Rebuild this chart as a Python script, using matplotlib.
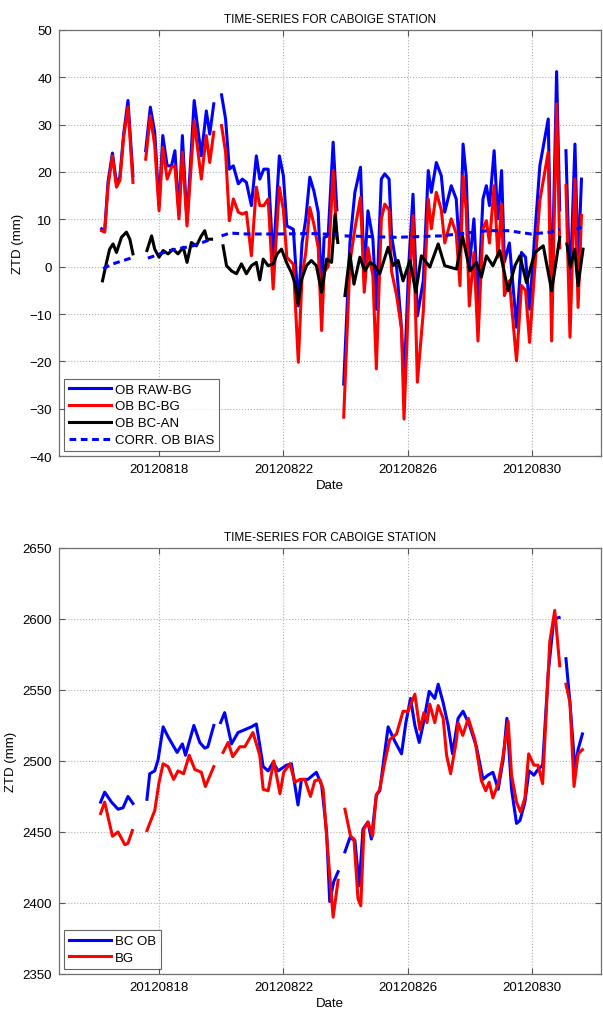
import numpy as np
import matplotlib
matplotlib.use("Agg")
import matplotlib.pyplot as plt

nan = np.nan

# ---- top panel: departures (mm), time in days of August 2012 ----
t_dep = [16.15, 16.25, 16.36, 16.50, 16.63, 16.74, 16.86, 17.00, 17.16, 17.35,
         17.57, 17.72, 17.86, 18.00, 18.12, 18.26, 18.40, 18.51, 18.64, 18.75,
         18.90, 19.13, 19.36, 19.52, 19.63, 19.76, 19.90,
         20.01, 20.14, 20.26, 20.39, 20.55, 20.68, 20.81, 20.97, 21.13, 21.24,
         21.37, 21.51, 21.67, 21.87, 22.00, 22.11, 22.32, 22.48, 22.60, 22.72,
         22.85, 22.98, 23.12, 23.23, 23.31, 23.44, 23.60, 23.72, 23.84,
         23.94, 24.14, 24.30, 24.48, 24.60, 24.72, 24.88, 24.99, 25.15, 25.26,
         25.40, 25.48, 25.64, 25.80, 25.88, 26.03, 26.17, 26.31, 26.50, 26.66,
         26.76, 26.92, 27.08, 27.19, 27.40, 27.56, 27.68, 27.78, 27.88, 27.98,
         28.13, 28.26, 28.42, 28.53, 28.63, 28.78, 28.90, 29.02, 29.11, 29.27,
         29.50, 29.66, 29.79, 29.92, 30.07, 30.25, 30.52, 30.63, 30.79, 30.89, 31.00,
         31.09, 31.22, 31.38, 31.48, 31.59]
ob_raw_bg = [8.0, 7.5, 18.0, 24.0, 17.5, 19.0, 28.0, 35.1, 19.2, nan,
             24.5, 33.7, 28.4, 12.9, 27.7, 21.3, 21.3, 24.5, 11.0, 27.7,
             9.4, 35.1, 23.4, 32.9, 28.0, 34.4, nan,
             36.3, 31.2, 20.6, 21.3, 17.5, 18.5, 17.8, 12.9, 23.4, 18.5,
             20.6, 20.6, 1.0, 23.4, 19.2, 8.6, 7.9, -8.3, 5.0, 10.0,
             18.9, 16.0, 11.5, -5.4, 6.2, 6.5, 26.3, 12.0, nan,
             -24.8, 5.0, 15.7, 21.0, -1.9, 11.8, 5.8, -9.0, 18.5, 19.6,
             18.5, 6.5, 0.0, -13.0, -25.0, 0.0, 15.3, -10.4, -3.0, 20.3,
             15.7, 22.0, 19.2, 11.5, 17.1, 14.3, 2.0, 25.9, 19.2, 0.0,
             10.1, -8.0, 14.3, 17.1, 12.9, 24.5, 10.1, 20.3, 1.0, 5.0,
             -12.8, 3.0, 2.0, -9.0, 5.0, 21.3, 31.2, -8.0, 41.2, 12.0, nan,
             24.5, -5.0, 25.9, 0.0, 18.5]
ob_bc_bg = [7.6, 7.3, 17.1, 23.4, 16.8, 18.2, 27.3, 33.7, 17.8, nan,
            22.7, 31.9, 25.6, 11.8, 25.2, 18.5, 21.0, 21.3, 10.1, 24.2,
            8.6, 30.8, 18.5, 27.7, 22.0, 28.4, nan,
            29.8, 24.2, 9.7, 14.3, 11.5, 11.1, 11.5, 2.3, 16.8, 12.9,
            12.9, 14.3, -4.7, 16.8, 12.0, 2.0, 0.5, -20.2, -2.0, 3.0,
            12.5, 9.0, 4.0, -13.5, -1.0, 0.0, 20.3, 6.0, nan,
            -31.8, 0.9, 8.0, 14.6, -5.4, 4.0, -2.0, -21.6, 10.0, 13.2,
            12.0, -1.0, -6.0, -13.2, -32.2, -6.1, 10.8, -24.4, -9.6, 14.3,
            8.0, 15.7, 12.0, 5.0, 10.1, 7.0, -4.0, 19.2, 12.0, -8.3,
            3.0, -15.7, 8.0, 9.7, 5.0, 17.1, 2.0, 13.2, -6.1, -3.0,
            -19.9, -4.0, -5.0, -16.0, -2.0, 14.0, 24.2, -15.7, 34.4, 4.0, nan,
            17.1, -14.9, 18.5, -8.6, 10.8]

t_an = [16.18, 16.31, 16.41, 16.52, 16.63, 16.79, 16.95, 17.06, 17.16, 17.35,
        17.61, 17.76, 17.86, 18.00, 18.13, 18.29, 18.45, 18.61, 18.78, 18.90,
        19.04, 19.20, 19.36, 19.47, 19.54, 19.69, 19.90,
        20.06, 20.17, 20.33, 20.49, 20.65, 20.81, 20.97, 21.13, 21.24, 21.35,
        21.51, 21.67, 21.80, 21.94, 22.10, 22.26, 22.37, 22.47, 22.58, 22.74,
        22.90, 23.06, 23.23, 23.39, 23.55, 23.66, 23.75, 23.86,
        23.98, 24.14, 24.27, 24.46, 24.62, 24.78, 24.94, 25.10, 25.37, 25.53,
        25.69, 25.85, 26.07, 26.26, 26.44, 26.71, 26.98, 27.19, 27.57, 27.76,
        28.00, 28.21, 28.37, 28.53, 28.74, 28.96, 29.23, 29.45, 29.61, 29.82,
        30.09, 30.36, 30.63, 30.89, 31.00,
        31.12, 31.23, 31.37, 31.48, 31.64]
ob_bc_an = [-3.0, 0.9, 3.7, 4.8, 3.0, 6.2, 7.3, 5.8, 2.7, nan,
            3.4, 6.5, 3.7, 2.0, 3.4, 2.7, 3.7, 2.7, 4.1, 0.9,
            5.1, 4.4, 6.5, 7.6, 5.8, 5.8, nan,
            4.4, 0.2, -0.9, -1.5, 0.6, -1.5, 0.2, 0.9, -2.8, 1.6,
            0.2, 0.6, 2.7, 3.7, 0.9, -1.3, -3.4, -8.0, -2.8, 0.2,
            1.3, 0.2, -5.4, 1.6, 0.9, 11.0, 5.1, nan,
            -6.1, 2.7, -3.7, 2.0, -0.9, 0.9, 0.2, -1.5, 4.1, 0.2,
            1.3, -3.0, 1.3, -5.4, 2.3, -0.1, 4.8, 0.2, -0.5, 6.5,
            -0.9, 0.9, -2.2, 2.3, 0.2, 3.4, -5.1, 0.2, 2.3, -3.4,
            3.0, 4.4, -5.1, 6.2, nan,
            4.8, -0.1, 3.7, -4.0, 3.7]

t_bias = [16.20, 16.52, 17.09, 17.35, 17.64, 18.34, 19.09, 19.69, 19.90,
          20.01, 20.28, 20.81, 21.78, 22.85, 23.72, 23.84,
          23.97, 25.64, 27.06, 28.57, 29.22, 29.97, 30.60, 30.89, 31.00,
          31.43, 31.59]
corr_ob_bias = [-0.4, 0.6, 1.8, nan, 1.8, 3.4, 4.4, 5.8, nan,
                6.5, 7.1, 6.9, 6.9, 7.0, 6.8, nan,
                6.5, 6.2, 6.5, 7.6, 7.6, 6.9, 7.3, 7.9, nan,
                7.9, 8.4]

# ---- bottom panel: ZTD (mm) ----
t_bc_ob = [16.12, 16.25, 16.47, 16.68, 16.84, 17.00, 17.16, 17.35,
           17.61, 17.70, 17.86, 17.97, 18.13, 18.29, 18.58, 18.75, 18.85, 19.12,
           19.31, 19.47, 19.57, 19.76, 19.90,
           19.98, 20.11, 20.33, 20.54, 20.76, 20.97, 21.13, 21.35, 21.51, 21.67,
           21.83, 22.10, 22.26, 22.47, 22.58, 22.79, 23.06, 23.23, 23.39, 23.49,
           23.62, 23.76, 23.86,
           23.98, 24.14, 24.30, 24.44, 24.56, 24.72, 24.83, 24.99, 25.10, 25.26,
           25.37, 25.58, 25.80, 25.94, 26.09, 26.23, 26.37, 26.49, 26.69, 26.87,
           26.98, 27.14, 27.30, 27.44, 27.62, 27.78, 27.99, 28.21, 28.42, 28.58,
           28.74, 28.91, 29.07, 29.19, 29.34, 29.50, 29.61, 29.77, 29.90, 30.06,
           30.19, 30.34, 30.52, 30.70, 30.87, 31.00,
           31.09, 31.22, 31.38, 31.48, 31.62]
ztd_bc_ob = [2471, 2478, 2471, 2466, 2467, 2475, 2470, nan,
             2473, 2491, 2493, 2501, 2524, 2517, 2506, 2512, 2504, 2525,
             2513, 2509, 2510, 2525, nan,
             2527, 2534, 2512, 2520, 2522, 2524, 2526, 2496, 2493, 2499,
             2493, 2497, 2498, 2469, 2487, 2487, 2492, 2483, 2450, 2401,
             2415, 2422, nan,
             2436, 2446, 2444, 2412, 2452, 2457, 2445, 2476, 2479, 2506,
             2524, 2514, 2505, 2527, 2544, 2525, 2513, 2525, 2549, 2544,
             2554, 2541, 2525, 2505, 2530, 2535, 2525, 2510, 2487, 2490,
             2492, 2480, 2501, 2530, 2480, 2456, 2458, 2471, 2493, 2490,
             2494, 2497, 2562, 2600, 2601, nan,
             2572, 2541, 2494, 2508, 2519]

t_bg = [16.12, 16.25, 16.50, 16.68, 16.90, 17.00, 17.14, 17.35,
        17.61, 17.86, 18.00, 18.13, 18.29, 18.47, 18.61, 18.79, 18.97, 19.15,
        19.36, 19.49, 19.76, 19.90,
        20.06, 20.22, 20.37, 20.60, 20.76, 21.02, 21.24, 21.35, 21.51, 21.69,
        21.89, 22.01, 22.21, 22.37, 22.53, 22.69, 22.87, 23.01, 23.17, 23.28,
        23.39, 23.60, 23.76, 23.86,
        23.98, 24.16, 24.27, 24.40, 24.49, 24.59, 24.72, 24.87, 24.99, 25.10,
        25.26, 25.42, 25.64, 25.85, 26.01, 26.23, 26.39, 26.52, 26.62, 26.71,
        26.87, 26.98, 27.14, 27.25, 27.38, 27.57, 27.62, 27.77, 27.95, 28.16,
        28.37, 28.51, 28.62, 28.74, 28.91, 29.07, 29.23, 29.34, 29.50, 29.63,
        29.77, 29.89, 30.06, 30.19, 30.34, 30.57, 30.73, 30.89, 31.00,
        31.09, 31.22, 31.35, 31.48, 31.62]
ztd_bg = [2463, 2471, 2447, 2450, 2441, 2442, 2451, nan,
          2451, 2465, 2485, 2498, 2496, 2487, 2493, 2491, 2504, 2494,
          2492, 2482, 2496, nan,
          2506, 2513, 2503, 2510, 2510, 2520, 2504, 2480, 2479, 2500,
          2477, 2492, 2498, 2485, 2487, 2487, 2475, 2486, 2487, 2480,
          2447, 2390, 2416, nan,
          2466, 2447, 2445, 2403, 2398, 2452, 2457, 2447, 2476, 2480,
          2499, 2515, 2519, 2535, 2535, 2547, 2522, 2534, 2527, 2540,
          2527, 2539, 2530, 2504, 2491, 2515, 2527, 2518, 2530, 2515,
          2486, 2479, 2485, 2474, 2484, 2504, 2528, 2490, 2471, 2464,
          2474, 2505, 2497, 2497, 2484, 2584, 2606, 2567, nan,
          2554, 2541, 2482, 2505, 2508]

date_ticks = [18, 22, 26, 30]
date_labels = ["201208%02d" % d for d in date_ticks]
title = "TIME-SERIES FOR CABOIGE STATION"

plt.rcParams["font.family"] = ["Liberation Sans", "DejaVu Sans"]
plt.rcParams["font.size"] = 9.5


def style_axes(ax, yticks, ylim):
    ax.set_xlim(14.78, 32.22)
    ax.set_ylim(*ylim)
    ax.set_xticks(date_ticks)
    ax.set_xticklabels(date_labels)
    ax.set_yticks(yticks)
    ax.tick_params(direction="in", top=True, right=True, length=4,
                   color="#555555", labelsize=9.5, pad=5)
    ax.grid(True, linestyle=":", color="#b0b0b0", linewidth=0.8)
    for s in ax.spines.values():
        s.set_color("#707070")
        s.set_linewidth(0.9)
    ax.set_title(title, fontsize=8.5, pad=6)
    ax.set_xlabel("Date", fontsize=9.5, labelpad=3)
    ax.set_ylabel("ZTD (mm)", fontsize=9.5, labelpad=4)


fig = plt.figure(figsize=(6.03, 10.12), dpi=100)
ax1 = fig.add_axes([0.0978, 0.5484, 0.899, 0.421])
ax2 = fig.add_axes([0.0978, 0.0366, 0.899, 0.421])

lw = 2.2
ax1.plot(t_dep, ob_raw_bg, color="#0000ff", lw=lw, label="OB RAW-BG")
ax1.plot(t_dep, ob_bc_bg, color="#ff0000", lw=lw, label="OB BC-BG")
ax1.plot(t_an, ob_bc_an, color="black", lw=lw, label="OB BC-AN")
ax1.plot(t_bias, corr_ob_bias, color="#0000ff", lw=lw, ls=(0, (2.2, 1.5)),
         label="CORR. OB BIAS")
style_axes(ax1, np.arange(-40, 51, 10), (-40, 50))
leg1 = ax1.legend(loc="lower left", fontsize=9.5, frameon=True, fancybox=False,
                  edgecolor="#404040", handlelength=3.2, handletextpad=0.3,
                  borderaxespad=0.4, labelspacing=0.35, borderpad=0.35)
leg1.get_frame().set_linewidth(0.8)

ax2.plot(t_bc_ob, ztd_bc_ob, color="#0000ff", lw=lw, label="BC OB")
ax2.plot(t_bg, ztd_bg, color="#ff0000", lw=lw, label="BG")
style_axes(ax2, np.arange(2350, 2651, 50), (2350, 2650))
leg2 = ax2.legend(loc="lower left", fontsize=9.5, frameon=True, fancybox=False,
                  edgecolor="#404040", handlelength=3.2, handletextpad=0.3,
                  borderaxespad=0.4, labelspacing=0.35, borderpad=0.35)
leg2.get_frame().set_linewidth(0.8)

fig.savefig("out.png", dpi=100, facecolor="white")
